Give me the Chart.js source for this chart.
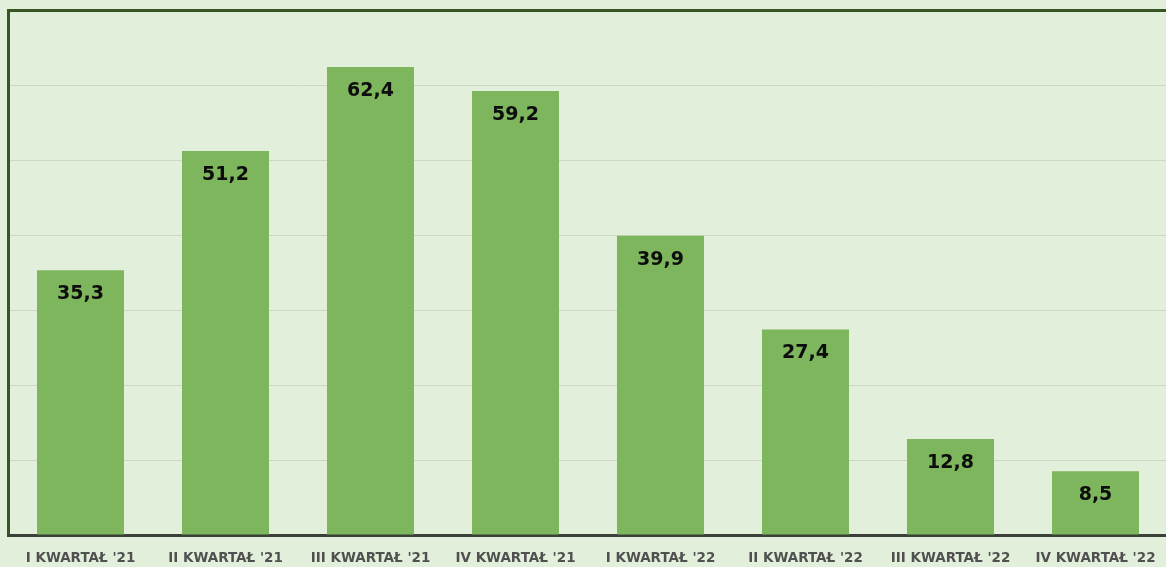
<!DOCTYPE html>
<html>
<head>
<meta charset="utf-8">
<script src="https://cdn.jsdelivr.net/npm/chart.js@4"></script>
<style>
  html, body { margin: 0; padding: 0; background: #e2efda; overflow: hidden; }
  #wrap { width: 1175px; height: 567px; }
</style>
</head>
<body>
<div id="wrap"><canvas id="kwartalChart" width="1175" height="567"></canvas></div>
<script>
const categories = ["I KWARTAŁ '21", "II KWARTAŁ '21", "III KWARTAŁ '21", "IV KWARTAŁ '21",
                    "I KWARTAŁ '22", "II KWARTAŁ '22", "III KWARTAŁ '22", "IV KWARTAŁ '22"];
const values = [35.3, 51.2, 62.4, 59.2, 39.9, 27.4, 12.8, 8.5];
const yMin = 0;
const yMax = 70;
const yStep = 10;

// wartości w środku słupka, pod górną krawędzią
const valueLabels = {
    id: 'valueLabels',
    afterDatasetsDraw(chart) {
        const ctx = chart.ctx;
        const meta = chart.getDatasetMeta(0);
        ctx.save();
        ctx.font = 'bold 19px "DejaVu Sans"';
        ctx.fillStyle = '#0d0d0d';
        ctx.textAlign = 'center';
        ctx.textBaseline = 'middle';
        meta.data.forEach((bar, i) => {
            const txt = values[i].toFixed(1).replace('.', ',');
            ctx.fillText(txt, bar.x, bar.y + 24);
        });
        ctx.restore();
    }
};

const ctx = document.getElementById('kwartalChart').getContext('2d');
new Chart(ctx, {
    type: 'bar',
    data: {
        labels: categories,
        datasets: [{
            data: values,
            backgroundColor: '#7db65c',
            borderWidth: 0,
            categoryPercentage: 0.6,
            barPercentage: 1.0
        }]
    },
    options: {
        responsive: false,
        animation: false,
        devicePixelRatio: 1,
        layout: { padding: { left: 8, right: 7, top: 10, bottom: 0 } },
        plugins: {
            legend: { display: false },
            tooltip: { enabled: false }
        },
        scales: {
            y: {
                min: yMin,
                max: yMax,
                ticks: { display: false, stepSize: yStep },
                grid: {
                    drawTicks: false,
                    color: (c) => c.tick && c.tick.value === yMax ? '#375623' : '#ccd8c4',
                    lineWidth: (c) => c.tick && c.tick.value === yMax ? 3 : 1
                },
                border: { display: true, color: '#375623', width: 3 }
            },
            x: {
                afterFit(scale) { scale.height = 32; },
                ticks: {
                    color: '#505050',
                    font: { family: '"DejaVu Sans"', size: 13.5, weight: 'bold' },
                    padding: 15,
                    maxRotation: 0,
                    autoSkip: false
                },
                grid: { display: false, drawTicks: false },
                border: { display: true, color: '#3a3f38', width: 3 }
            }
        }
    },
    plugins: [valueLabels]
});
</script>
</body>
</html>
